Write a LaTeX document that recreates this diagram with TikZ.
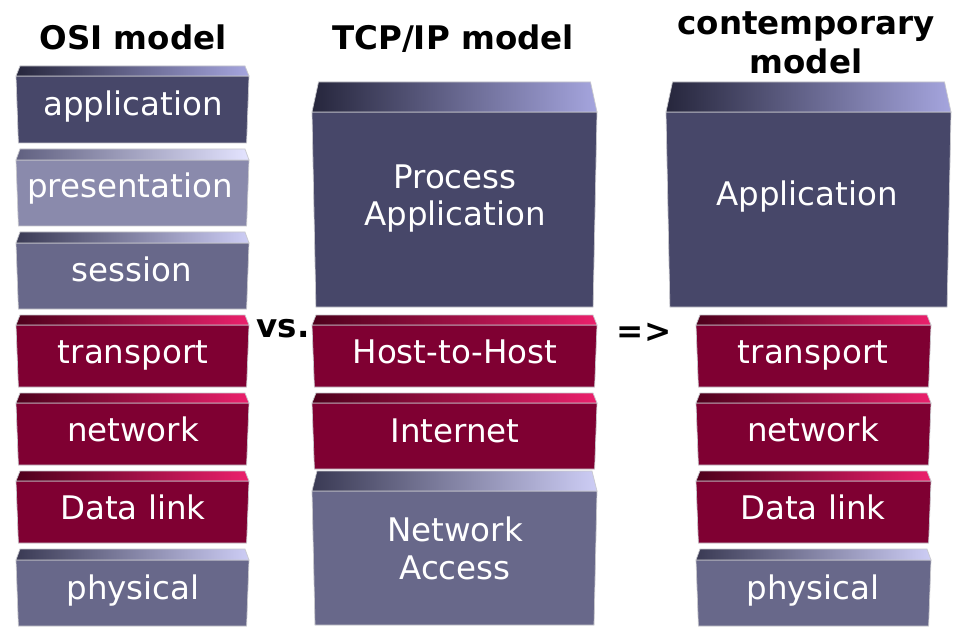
\documentclass[tikz,border=0pt]{standalone}
\usepackage{fontspec}
\setmainfont{DejaVu Sans}
\begin{document}
\definecolor{faceA}{RGB}{71,71,105}
\definecolor{faceB}{RGB}{138,138,172}
\definecolor{faceC}{RGB}{104,104,138}
\definecolor{faceR}{RGB}{127,0,50}
\definecolor{bevAl}{RGB}{38,38,60}
\definecolor{bevAm}{RGB}{86,86,126}
\definecolor{bevAr}{RGB}{165,165,222}
\definecolor{bevBl}{RGB}{96,96,128}
\definecolor{bevBm}{RGB}{150,150,188}
\definecolor{bevBr}{RGB}{228,228,255}
\definecolor{bevCl}{RGB}{58,58,84}
\definecolor{bevCm}{RGB}{118,118,158}
\definecolor{bevCr}{RGB}{205,205,245}
\definecolor{bevRl}{RGB}{78,0,28}
\definecolor{bevRm}{RGB}{150,8,62}
\definecolor{bevRr}{RGB}{235,32,108}
\definecolor{edgegray}{RGB}{200,200,205}
\tikzset{
  dark face/.style={fill=faceA}, dark bevel/.style={left color=bevAl, middle color=bevAm, right color=bevAr},
  pale face/.style={fill=faceB}, pale bevel/.style={left color=bevBl, middle color=bevBm, right color=bevBr},
  mid face/.style={fill=faceC},  mid bevel/.style={left color=bevCl, middle color=bevCm, right color=bevCr},
  red face/.style={fill=faceR},  red bevel/.style={left color=bevRl, middle color=bevRm, right color=bevRr},
  layertext/.style={anchor=base, inner sep=0pt, text=white, font=\fontsize{32.5}{38}\selectfont},
  titletext/.style={anchor=base, inner sep=0pt, text=black, font=\fontsize{32.5}{38}\selectfont\bfseries},
}
% \layerbox{left}{right}{top}{bevel depth}{bottom}{inset}{scheme}
\newcommand\layerbox[7]{%
  \path[#7 face, draw=edgegray, line width=0.7pt]
    (#1,{#3+#4}) -- (#2,{#3+#4}) -- ({#2-0.6*#6},#5) -- ({#1+0.6*#6},#5) -- cycle;
  \path[#7 bevel, draw=edgegray, line width=0.7pt]
    ({#1+#6},#3) -- ({#2-#6},#3) -- (#2,{#3+#4}) -- (#1,{#3+#4}) -- cycle;
}
\begin{tikzpicture}[x=1pt, y=-1pt]
\useasboundingbox[fill=white] (0,0) rectangle (963,628);

% OSI column
\layerbox{16}{249}{66}{10}{143}{4}{dark}
\layerbox{16}{249}{149}{11}{226}{4}{pale}
\layerbox{16}{249}{232}{11}{309}{4}{mid}
\layerbox{16}{249}{315}{10}{387}{4}{red}
\layerbox{16}{249}{393}{10}{465}{4}{red}
\layerbox{16}{249}{471}{10}{543}{4}{red}
\layerbox{16}{249}{549}{11}{626}{4}{mid}

% TCP/IP column
\layerbox{312}{597}{82}{30}{307}{6.5}{dark}
\layerbox{312}{597}{315}{10}{387}{4}{red}
\layerbox{312}{597}{393}{10}{469}{4}{red}
\layerbox{312}{597}{471}{20}{625}{5}{mid}

% contemporary column
\layerbox{666}{951}{82}{30}{307}{6.5}{dark}
\layerbox{696}{931}{315}{10}{387}{4}{red}
\layerbox{696}{931}{393}{10}{465}{4}{red}
\layerbox{696}{931}{471}{10}{543}{4}{red}
\layerbox{696}{931}{549}{11}{626}{4}{mid}

% titles
\node[titletext] (tosi) at (133,50) {OSI model};
\node[titletext] (ttcp) at (453,50) {TCP/IP model};
\node[titletext] (tcon1) at (806,35) {contemporary};
\node[titletext] (tcon2) at (806,74) {model};
\node[titletext] (vs) at (283,337) {vs.};
\node[titletext] (arrow) at (644,342) {=>};

% OSI labels
\node[layertext] (osi7) at (133,116) {application};
\node[layertext] (osi6) at (130,198) {presentation};
\node[layertext] (osi5) at (132,281) {session};
\node[layertext] (osi4) at (133,363) {transport};
\node[layertext] (osi3) at (133,441) {network};
\node[layertext] (osi2) at (133,519) {Data link};
\node[layertext] (osi1) at (133,599) {physical};

% TCP/IP labels
\node[layertext] (tcp4a) at (455,189) {Process};
\node[layertext] (tcp4b) at (455,226) {Application};
\node[layertext] (tcp3) at (455,363) {Host-to-Host};
\node[layertext] (tcp2) at (455,442) {Internet};
\node[layertext] (tcp1a) at (455,541) {Network};
\node[layertext] (tcp1b) at (455,579) {Access};

% contemporary labels
\node[layertext] (con5) at (807,206) {Application};
\node[layertext] (con4) at (813,363) {transport};
\node[layertext] (con3) at (813,441) {network};
\node[layertext] (con2) at (813,519) {Data link};
\node[layertext] (con1) at (813,599) {physical};
\end{tikzpicture}
\end{document}
